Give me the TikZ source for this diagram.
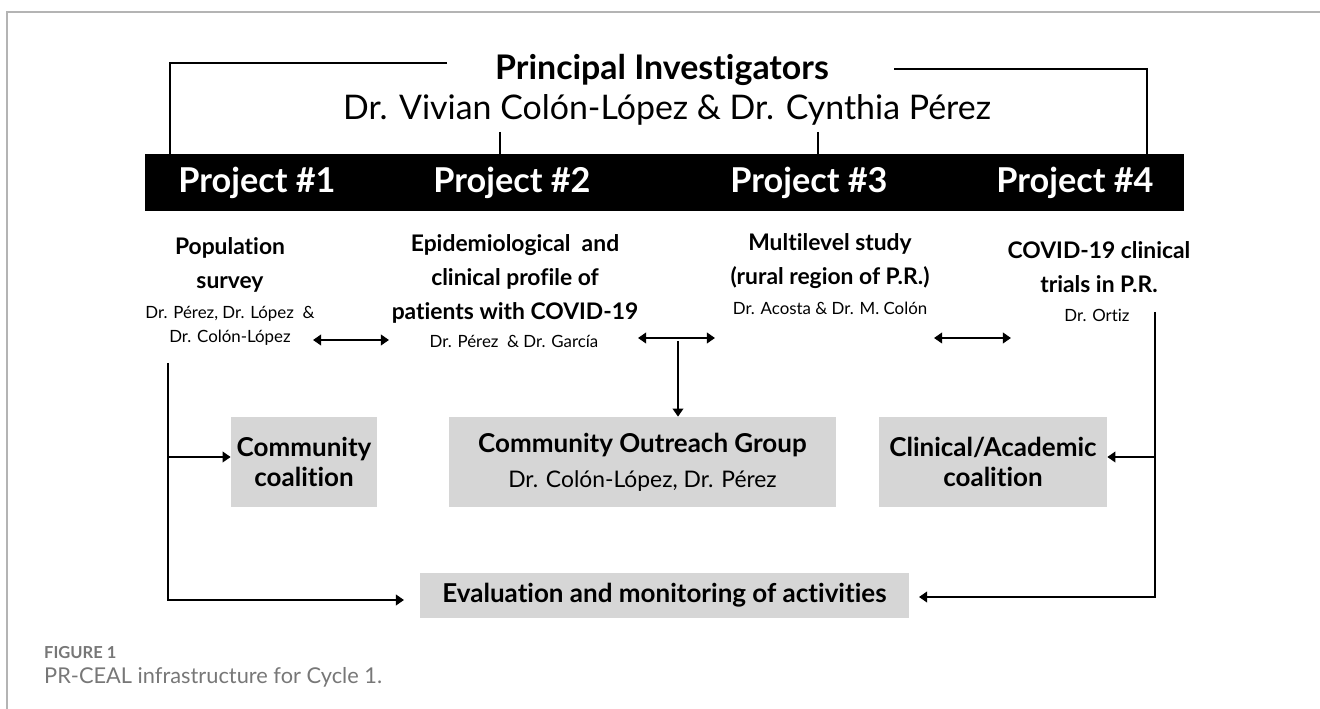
\documentclass[tikz,border=0pt]{standalone}
\usepackage{fontspec}
\setmainfont{Lato}[Ligatures={NoCommon}]
\usetikzlibrary{arrows.meta,positioning}

\definecolor{boxgray}{HTML}{D6D6D6}
\definecolor{capgray}{HTML}{777777}
\definecolor{framegray}{HTML}{B4B4B4}

\tikzset{
  link/.style={line width=1.4pt},
  bracket/.style={line width=1.1pt},
  arr/.style={link,-{Triangle[length=4.6pt,width=6pt]}},
  dblarr/.style={link,{Triangle[length=4.6pt,width=6pt]}-{Triangle[length=4.6pt,width=6pt]}},
  projlabel/.style={text=white,font=\bfseries\fontsize{19.5}{22}\selectfont},
  title/.style={align=center,font=\bfseries\fontsize{13}{19.5}\selectfont},
  names/.style={align=center,font=\fontsize{9.6}{14}\selectfont},
  graybox/.style={fill=boxgray,align=center,inner sep=0pt},
  boxtext/.style={font=\bfseries\fontsize{14.8}{17}\selectfont}
}

\begin{document}
\begin{tikzpicture}[x=0.02cm,y=-0.02cm]

    \useasboundingbox (0,0) rectangle (1320,709);

    % Page frame
    \draw[framegray,line width=0.8pt] (7,709) -- (7,12) -- (1320,12);

    % Principal investigators
    \node[font=\bfseries\fontsize{19.3}{22}\selectfont] (pi) at (662,70) {Principal Investigators};
    \node[font=\fontsize{19.3}{24}\selectfont] (pinames) at (667,110) {Dr. Vivian Colón-López \& Dr. Cynthia Pérez};

    % Black bar with the four projects
    \fill (145,154) rectangle (1184,211);
    \node[projlabel] (p1) at (257,183) {Project \#1};
    \node[projlabel] (p2) at (512,183) {Project \#2};
    \node[projlabel] (p3) at (809,183) {Project \#3};
    \node[projlabel] (p4) at (1075,183) {Project \#4};

    % Bracket from the PIs down to the bar
    \coordinate (k1) at (170,154);
    \coordinate (k2) at (500,154);
    \coordinate (k3) at (818,154);
    \coordinate (k4) at (1147,154);
    \draw[bracket] (447,63) -| (k1);
    \draw[bracket] (894,69) -| (k4);
    \draw[bracket] (500,132) -- (k2);
    \draw[bracket] (818,132) -- (k3);

    % Project descriptions
    \node[title] (t1) at (230,265) {Population\\survey};
    \node[names] (n1) at (230,326) {Dr. Pérez, Dr. López~~\&\\Dr. Colón-López};
    \node[title] (t2) at (515,279) {Epidemiological~~and\\clinical profile of\\patients with COVID-19};
    \node[names] (n2) at (514,341) {Dr. Pérez~~\& Dr. García};
    \node[title] (t3) at (830,261) {Multilevel study\\(rural region of P.R.)};
    \node[names] (n3) at (830,308) {Dr. Acosta \& Dr. M. Colón};
    \node[title] (t4) at (1099,267) {COVID-19 clinical\\trials in P.R.};
    \node[names] (n4) at (1097,315) {Dr. Ortiz};

    % Grey boxes
    \node[graybox,boxtext,minimum width=2.92cm,minimum height=1.8cm] (cc) at (304,462) {Community\\coalition};
    \node[graybox,minimum width=7.74cm,minimum height=1.8cm] (cog) at (642.5,462)
          {{\bfseries\fontsize{14.8}{17}\selectfont Community Outreach Group}\\[7pt]
           {\fontsize{13}{15}\selectfont Dr. Colón-López, Dr. Pérez}};
    \node[graybox,boxtext,minimum width=4.56cm,minimum height=1.8cm] (cac) at (993,462) {Clinical/Academic\\coalition};
    \node[graybox,boxtext,minimum width=9.78cm,minimum height=0.9cm] (eval) at (664.5,595.5) {Evaluation and monitoring of activities};

    % Links between projects
    \draw[dblarr] (313,340) -- (389,340);
    \draw[dblarr] (638,338) -- (715,338);
    \draw[dblarr] (934,338) -- (1011,338);
    \coordinate (d2) at (678,341);
    \draw[arr] (d2) -- (d2 |- cog.north);

    % Left branch from project 1
    \coordinate (s1) at (168,363);
    \draw[arr] (s1) |- (404,600);
    \draw[arr] (s1 |- 0,457) -- (cc.west |- 0,457);

    % Right branch from project 4
    \coordinate (s4) at (1155,312);
    \draw[arr] (s4) |- (919,597);
    \draw[arr] (s4 |- 0,457) -- (cac.east |- 0,457);

    % Caption
    \node[anchor=west,text=capgray,font=\bfseries\fontsize{9.4}{11}\selectfont] (figno) at (38,653) {FIGURE 1};
    \node[anchor=west,text=capgray,font=\fontsize{12.4}{14}\selectfont] (caption) at (38,677) {PR-CEAL infrastructure for Cycle 1.};

\end{tikzpicture}
\end{document}
